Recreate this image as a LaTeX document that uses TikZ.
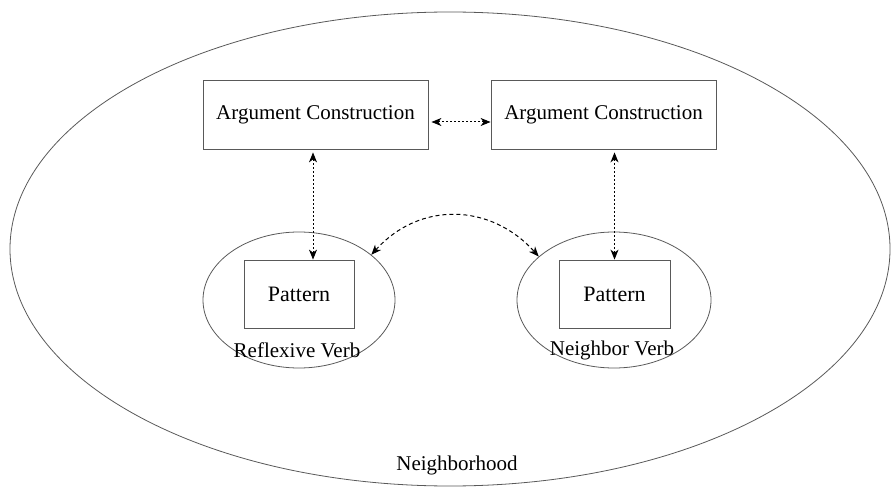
\documentclass[tikz,border=0pt]{standalone}
\usepackage{fontspec}
\setmainfont{Liberation Serif}
\usetikzlibrary{shapes.geometric,arrows.meta}
\begin{document}
\begin{tikzpicture}[x=1pt,y=1pt,
  >={Stealth[length=10pt,width=8pt,inset=3pt]},
  lbl/.style={font=\fontsize{21}{24}\selectfont, inner sep=0pt},
  boxnode/.style={draw=black!65, line width=0.8pt, rectangle, inner sep=0pt, font=\fontsize{21}{24}\selectfont},
  ellnode/.style={draw=black!65, line width=0.8pt, ellipse, inner sep=0pt},
  dotarr/.style={black, line width=1pt, dash pattern=on 2pt off 2pt, <->},
  dasharr/.style={black, line width=1pt, dash pattern=on 4pt off 3pt, <->}
]
\useasboundingbox (0,0) rectangle (893,488);
\node[ellnode, minimum width=880, minimum height=474] (outer) at (450,239) {};
\node[boxnode, minimum width=225, minimum height=69] (b1) at (315.5,373.5) {Argument Construction};
\node[boxnode, minimum width=225, minimum height=69] (b2) at (603.5,373.5) {Argument Construction};
\node[ellnode, minimum width=192, minimum height=136] (lv) at (299,188) {};
\node[ellnode, minimum width=194, minimum height=136] (rv) at (614,188) {};
\node[boxnode, minimum width=110, minimum height=68, font=\fontsize{22}{25}\selectfont] (p1) at (299,194) {Pattern};
\node[boxnode, minimum width=111, minimum height=68, font=\fontsize{22}{25}\selectfont] (p2) at (614.5,194) {Pattern};
\node[lbl] (lvl) at (297,138) {Reflexive Verb};
\node[lbl] (rvl) at (612,138) {Neighbor Verb};
\node[lbl] (nbh) at (457,23) {Neighborhood};
\coordinate (s1) at ([xshift=-2.5pt,yshift=-3pt]b1.south);
\coordinate (s2) at ([yshift=-3pt]b2.south -| p2.north);
\draw[dotarr] ([xshift=3pt,yshift=-7.5pt]b1.east) -- ([yshift=-7.5pt]b2.west);
\draw[dotarr] (s1) -- (s1 |- p1.north);
\draw[dotarr] (s2) -- (p2.north);
\draw[dasharr] (lv.32) to[out=48,in=132,looseness=1.1] (rv.150);
\end{tikzpicture}
\end{document}
